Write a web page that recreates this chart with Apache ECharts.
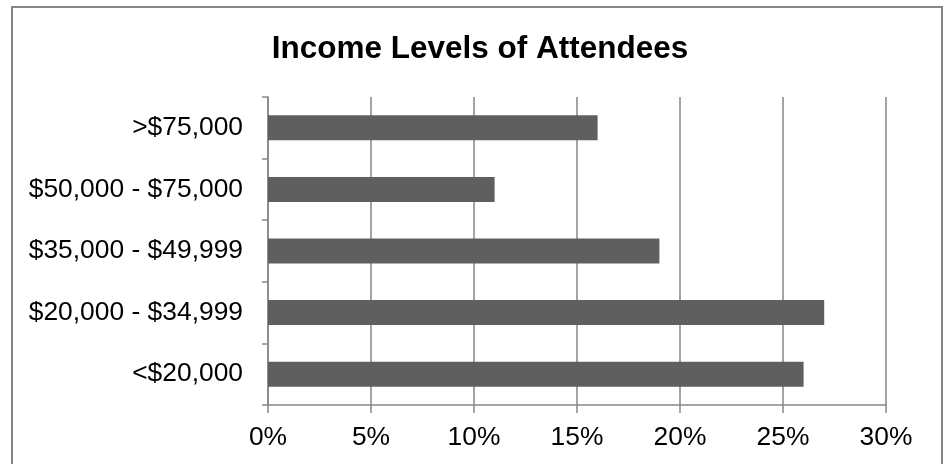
<!DOCTYPE html>
<html>
<head>
<meta charset="utf-8">
<script src="https://cdn.jsdelivr.net/npm/echarts@6/dist/echarts.min.js"></script>
<style>
html,body{margin:0;padding:0;background:#fff;}
#chart{width:947px;height:464px;}
</style>
</head>
<body>
<div id="chart"></div>
<script>
const categories = ['<$20,000', '$20,000 - $34,999', '$35,000 - $49,999', '$50,000 - $75,000', '>$75,000'];
const percentValues = [26, 27, 19, 11, 16];
const xTickMin = 0, xTickMax = 30, xTickStep = 5;
const chartTitle = 'Income Levels of Attendees';

const chart = echarts.init(document.getElementById('chart'), null, {renderer: 'canvas'});
const axisGray = '#868686';
chart.setOption({
  animation: false,
  backgroundColor: '#fff',
  title: {
    text: chartTitle,
    left: 475, top: 28, textAlign: 'center',
    textStyle: {fontFamily: 'Liberation Sans, Arial, sans-serif', fontWeight: 'bold', fontSize: 31.5, color: '#000'}
  },
  graphic: [{
    type: 'rect', silent: true,
    shape: {x: 12, y: 7, width: 930, height: 470},
    style: {fill: 'none', stroke: axisGray, lineWidth: 2}
  }],
  grid: {left: 268, right: 61, top: 97, bottom: 59, containLabel: false},
  xAxis: {
    type: 'value', min: xTickMin, max: xTickMax, interval: xTickStep,
    axisLine: {show: true, lineStyle: {color: axisGray, width: 1.5}},
    axisTick: {show: true, length: 8, lineStyle: {color: axisGray, width: 1.5}},
    splitLine: {show: true, lineStyle: {color: axisGray, width: 1.5}},
    axisLabel: {formatter: v => v + '%', margin: 20, color: '#000', fontSize: 26.4, fontFamily: 'Liberation Sans, Arial, sans-serif'}
  },
  yAxis: {
    type: 'category', data: categories,
    axisLine: {show: true, lineStyle: {color: axisGray, width: 1.5}},
    axisTick: {show: true, length: 6, lineStyle: {color: axisGray, width: 1.5}},
    splitLine: {show: false},
    axisLabel: {margin: 25, color: '#000', fontSize: 26.4, fontFamily: 'Liberation Sans, Arial, sans-serif'}
  },
  series: [{
    type: 'bar', data: percentValues, barWidth: 25,
    itemStyle: {color: '#5f5f5f'}
  }]
});
</script>
</body>
</html>
